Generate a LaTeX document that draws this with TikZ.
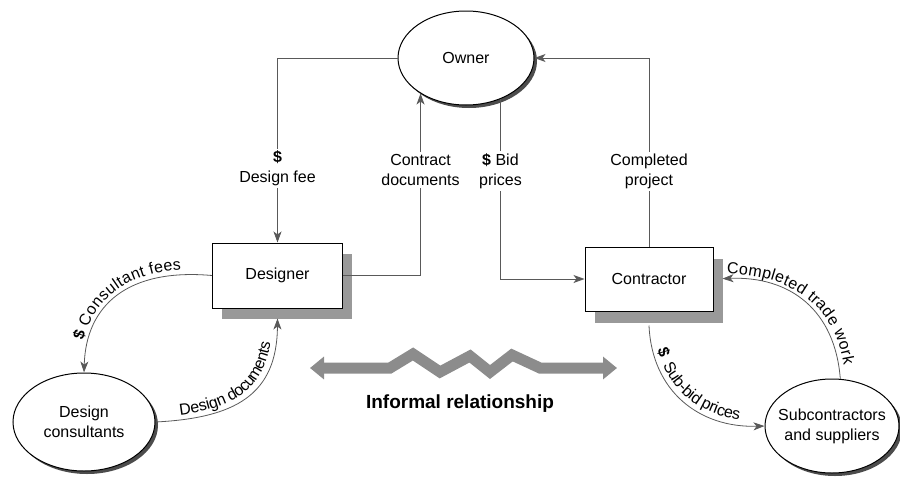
\documentclass[tikz,border=0pt]{standalone}
\usepackage{fontspec}
\setmainfont{Liberation Sans}
\usetikzlibrary{arrows.meta,shapes.geometric,decorations.text}
\newcommand{\lblfont}{\fontsize{16}{20}\selectfont}
\begin{document}
\begin{tikzpicture}[x=1pt,y=-1pt,
  font=\lblfont,
  box/.style={draw, line width=1pt, fill=white, minimum width=130pt, minimum height=65pt, inner sep=0pt},
  boxshadow/.style={fill=black!40, minimum width=130pt, minimum height=65pt, inner sep=0pt},
  oval/.style={ellipse, draw, line width=1pt, fill=white, inner xsep=-30pt, inner ysep=-15pt, align=center},
  ovalshadow/.style={ellipse, fill=black!70, inner sep=0pt},
  conn/.style={draw=black!65, line width=0.8pt, -{Stealth[length=11pt,width=8pt,inset=3pt]}},
  lbl/.style={fill=white, align=center, inner sep=2pt},
  curvelbl/.style={decorate, decoration={text along path, text align=center, raise=5pt}}
]
\useasboundingbox (0,0) rectangle (900,479);

% shadows
\node[ovalshadow, minimum width=136pt, minimum height=94pt] (owner-sh) at (469,61) {};
\node[boxshadow] (designer-sh) at (286.5,286.5) {};
\node[boxshadow, minimum width=128pt, minimum height=64pt] (contractor-sh) at (659,291) {};
\node[ovalshadow, minimum width=142pt, minimum height=98pt] (dcons-sh) at (87,425) {};
\node[ovalshadow, minimum width=134pt, minimum height=94pt] (subs-sh) at (835,429) {};

% main nodes
\node[oval, minimum width=136pt, minimum height=94pt] (owner) at (466,58) {Owner};
\node[box] (designer) at (277.5,275.5) {Designer};
\node[box, minimum width=128pt, minimum height=64pt] (contractor) at (649,279) {Contractor};
\node[oval, minimum width=142pt, minimum height=98pt] (dcons) at (84,422) {Design\\consultants};
\node[oval, minimum width=134pt, minimum height=94pt] (subs) at (832,426) {Subcontractors\\and suppliers};

% straight connectors
\draw[conn] (owner.west) -| node[lbl, pos=0.8] (lfee) {{\bfseries\$}\\Design fee} (designer.north);
\draw[conn] (designer.east) -| node[lbl, pos=0.79] (lcd) {Contract\\documents} (owner.218);
\draw[conn] (owner.310) |- node[lbl, pos=0.2] (lbid) {{\bfseries\$} Bid\\prices} (contractor.west);
\draw[conn] (contractor.north) |- node[lbl, pos=0.2] (lcp) {Completed\\project} (owner.east);

% curved connectors
\draw[conn] (designer.west) .. controls (128,268) and (86,305) .. (dcons.north);
\path[curvelbl, decoration={text={|\lblfont\bfseries|{\$} |\lblfont|Consultant fees}}]
  (dcons.north) .. controls (86,305) and (128,268) .. (designer.west);

\draw[conn] (dcons.east) .. controls (235,418) and (277,395) .. ([yshift=-10pt]designer.south);
\path[curvelbl, decoration={text={|\lblfont|Design documents}}]
  (dcons.east) .. controls (235,418) and (277,395) .. ([yshift=-10pt]designer.south);

\draw[conn] ([yshift=-14pt]contractor.south) .. controls (652,392) and (700,428) .. (subs.west);
\path[curvelbl, decoration={text={|\lblfont\bfseries|{\$}|\lblfont|{\ \ }Sub-bid prices}}]
  ([yshift=-14pt]contractor.south) .. controls (652,392) and (700,428) .. (subs.west);

\draw[conn, shorten >=9pt] (subs.80) .. controls (835,310) and (790,276) .. (contractor.east);
\path[curvelbl, decoration={text={|\lblfont|Completed trade work}}]
  (contractor.east) .. controls (790,276) and (835,310) .. (subs.80);

% informal relationship
\draw[line width=11pt, black!45, line join=miter,
  {Triangle[length=14pt,width=22pt]}-{Triangle[length=14pt,width=22pt]}]
  (310,368) -- (390,368) -- (413,354) -- (440,372) -- (470,356) -- (490,372) -- (512,355) -- (540,368) -- (617,368);
\node[font=\fontsize{19}{22}\selectfont\bfseries] (inf) at (460,404) {Informal relationship};
\end{tikzpicture}
\end{document}
